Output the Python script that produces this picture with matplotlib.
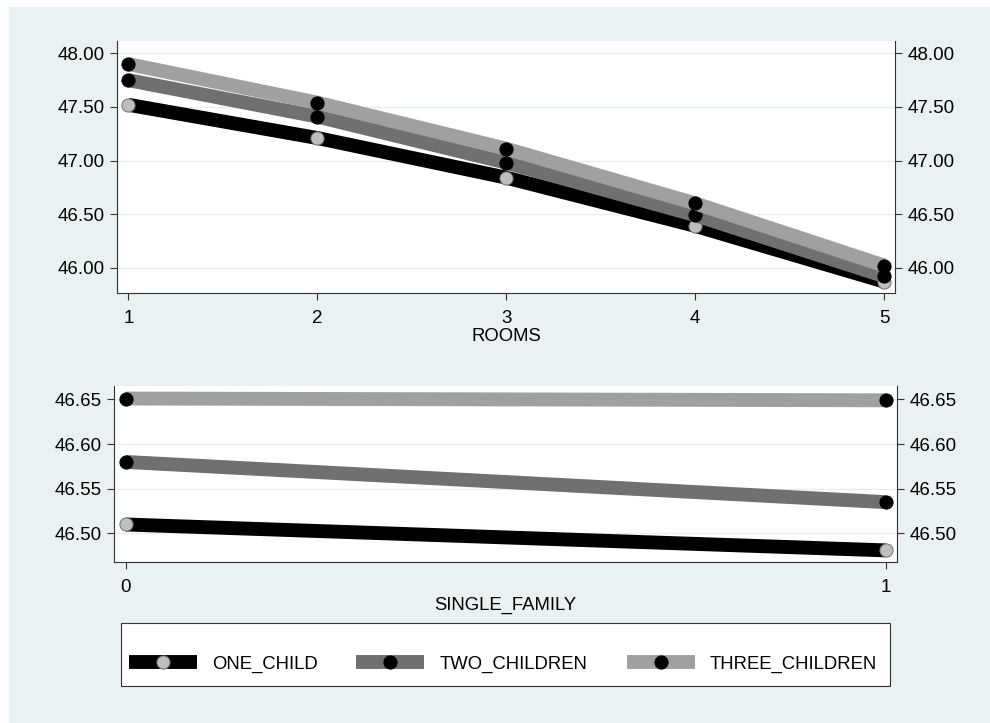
import matplotlib.pyplot as plt
from matplotlib.patches import Rectangle
from matplotlib.ticker import FormatStrFormatter

plt.rcParams['font.family'] = ['Liberation Sans', 'DejaVu Sans']

# data
rooms = [1, 2, 3, 4, 5]
one_child_rooms = [47.52, 47.21, 46.84, 46.39, 45.87]
two_children_rooms = [47.75, 47.41, 46.98, 46.49, 45.92]
three_children_rooms = [47.90, 47.54, 47.11, 46.60, 46.02]

single_family = [0, 1]
one_child_sf = [46.510, 46.481]
two_children_sf = [46.580, 46.535]
three_children_sf = [46.651, 46.649]

series_names = ['ONE_CHILD', 'TWO_CHILDREN', 'THREE_CHILDREN']
room_ticks = [46.0, 46.5, 47.0, 47.5, 48.0]
sf_ticks = [46.50, 46.55, 46.60, 46.65]

line_colors = ['black', '#707070', '#a0a0a0']
marker_faces = ['#bebebe', 'black', 'black']
marker_edges = ['#6e6e6e', 'black', 'black']

W, H = 990, 723
bg = '#eaf1f3'
spine_col = '#333333'
fs = 13.3
tick_fs = 13.5

fig = plt.figure(figsize=(W / 100, H / 100), dpi=100, facecolor='white')
fig.patches.append(Rectangle((9 / W, 0), (W - 9) / W, (H - 7) / H,
                             transform=fig.transFigure, facecolor=bg,
                             edgecolor='none', zorder=-10))


def style_axes(ax, xticks, yticks, xlim, ylim, xlabel):
    ax.set_facecolor('white')
    ax.set_xlim(*xlim)
    ax.set_ylim(*ylim)
    ax.set_xticks(xticks)
    ax.set_yticks(yticks)
    ax.yaxis.set_major_formatter(FormatStrFormatter('%.2f'))
    ax.grid(axis='y', color='#e6eef2', linewidth=1.0, zorder=0)
    ax.set_axisbelow(True)
    ax.spines['top'].set_visible(False)
    for s in ['left', 'right', 'bottom']:
        ax.spines[s].set_color(spine_col)
        ax.spines[s].set_linewidth(0.8)
    ax.tick_params(axis='y', left=True, right=True, labelleft=True,
                   labelright=True, length=5, width=0.8, color=spine_col,
                   labelsize=tick_fs, pad=4)
    ax.tick_params(axis='x', length=5, width=0.8, color=spine_col,
                   labelsize=tick_fs, pad=7)
    ax.set_xlabel(xlabel, fontsize=fs, labelpad=1)


def draw_series(ax, x, series):
    handles = []
    for i, y in enumerate(series):
        h, = ax.plot(x, y, color=line_colors[i], linewidth=10,
                     solid_capstyle='butt', marker='o', markersize=9.5,
                     markerfacecolor=marker_faces[i],
                     markeredgecolor=marker_edges[i], markeredgewidth=0.7,
                     zorder=3 + i, clip_on=False, label=series_names[i])
        handles.append(h)
    return handles


ax1 = fig.add_axes([117 / W, 1 - 293 / H, (895 - 117) / W, (293 - 41) / H])
style_axes(ax1, rooms, room_ticks, (0.94, 5.057), (45.764, 48.115), 'ROOMS')
handles = draw_series(ax1, rooms,
                      [one_child_rooms, two_children_rooms, three_children_rooms])

ax2 = fig.add_axes([114 / W, 1 - 562 / H, (897 - 114) / W, (562 - 386) / H])
style_axes(ax2, single_family, sf_ticks, (-0.0154, 1.0148), (46.468, 46.665),
           'SINGLE_FAMILY')
draw_series(ax2, single_family, [one_child_sf, two_children_sf, three_children_sf])

# legend box
fig.patches.append(Rectangle((121 / W, 1 - 686 / H), (890 - 121) / W,
                             (686 - 623) / H, transform=fig.transFigure,
                             facecolor='white', edgecolor=spine_col,
                             linewidth=0.8, zorder=1))
entry_x = [129, 356, 627]
for h, x in zip(handles, entry_x):
    fig.legend(handles=[h], loc='center left',
               bbox_to_anchor=(x / W, 1 - 664 / H), frameon=False,
               fontsize=fs, handlelength=3.7, handletextpad=0.8,
               borderpad=0, borderaxespad=0, numpoints=1)

fig.savefig('out.png', dpi=100, facecolor=fig.get_facecolor())
